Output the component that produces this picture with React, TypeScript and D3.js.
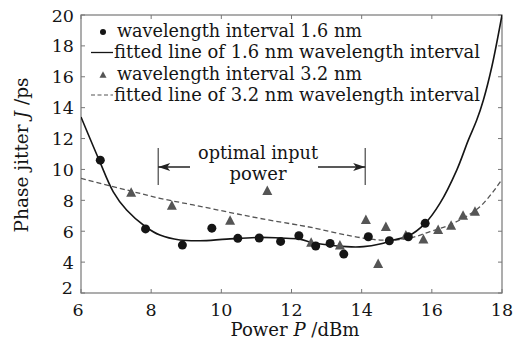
import React from 'react';
import * as d3 from 'd3';

// measured points, 1.6 nm spacing (circles)
const circleX = [6.55, 7.84, 8.89, 9.73, 10.47, 11.08, 11.69, 12.21, 12.69, 13.1, 13.49, 14.19, 14.79, 15.33, 15.81];
const circleY = [10.6, 6.15, 5.1, 6.2, 5.54, 5.56, 5.34, 5.71, 5.04, 5.21, 4.52, 5.64, 5.38, 5.64, 6.51];

// measured points, 3.2 nm spacing (triangles)
const triX = [7.43, 8.59, 10.25, 11.31, 12.56, 13.38, 14.12, 14.47, 14.69, 15.26, 15.76, 16.18, 16.55, 16.89, 17.23];
const triY = [8.49, 7.65, 6.68, 8.6, 5.25, 5.08, 6.72, 3.87, 6.27, 5.73, 5.47, 6.08, 6.35, 7.0, 7.26];

// fitted curves
const fit16X = [6, 6.5, 6.92, 7.3, 7.84, 8.25, 8.82, 9.39, 10.15, 11.1, 11.67, 12.24, 12.62, 13.57, 14.05, 14.52, 14.9, 15.33, 15.81, 16.23, 16.71, 17.04, 17.28, 17.47, 17.71, 18];
const fit16Y = [13.4, 10.7, 8.55, 7.37, 6.29, 5.75, 5.43, 5.38, 5.49, 5.6, 5.56, 5.49, 5.25, 5.0, 5.0, 5.17, 5.43, 5.69, 6.51, 7.8, 9.96, 11.9, 13.2, 14.5, 16.65, 20];
const fit32X = [6, 7.3, 8.25, 9.2, 10.15, 11.1, 12.24, 12.62, 13.57, 14.52, 15.33, 15.95, 16.61, 17.37, 18];
const fit32Y = [9.42, 8.67, 8.13, 7.7, 7.26, 6.83, 6.38, 6.22, 5.75, 5.43, 5.54, 5.97, 6.51, 7.58, 9.35];

const xTicks = [6, 8, 10, 12, 14, 16, 18];
const yTicks = [2, 4, 6, 8, 10, 12, 14, 16, 18, 20];

const legendLabels = [
  'wavelength interval 1.6 nm',
  'fitted line of 1.6 nm wavelength interval',
  'wavelength interval 3.2 nm',
  'fitted line of 3.2 nm wavelength interval',
];
const legendWidths = [245, 366, 245, 366];

const W = 531;
const H = 342;
const left = 81, right = 502, top = 15, bottom = 293;
const font = '"DejaVu Serif", "Liberation Serif", serif';
const frame = '#777';
const ink = '#151515';

const App: React.FC = () => {
  const x = d3.scaleLinear().domain([6, 18]).range([left, right]);
  const y = d3.scaleLinear().domain([2, 20]).range([bottom, top]);

  const line = d3
    .line<[number, number]>()
    .x((d) => x(d[0]))
    .y((d) => y(d[1]))
    .curve(d3.curveCatmullRom);

  const fit16 = fit16X.map((v, i) => [v, fit16Y[i]] as [number, number]);
  const fit32 = fit32X.map((v, i) => [v, fit32Y[i]] as [number, number]);

  const tri = (cx: number, cy: number, s: number) =>
    `M${cx},${cy - s * 0.55}L${cx + s / 2},${cy + s * 0.4}L${cx - s / 2},${cy + s * 0.4}Z`;

  const legendY = [31, 52.5, 74, 95];

  return (
    <svg width={W} height={H} style={{ display: 'block', position: 'absolute', left: 0, top: 0, fontFamily: font }}>
      <rect width={W} height={H} fill="#fff" />
      <defs>
        <clipPath id="plot">
          <rect x={left} y={top} width={right - left} height={bottom - top} />
        </clipPath>
      </defs>

      {/* frame + inward ticks */}
      <rect x={left} y={top} width={right - left} height={bottom - top} fill="none" stroke={frame} strokeWidth={1.2} />
      {xTicks.map((t) => (
        <g key={'xt' + t}>
          <line x1={x(t)} x2={x(t)} y1={bottom} y2={bottom - 4} stroke={frame} />
          <line x1={x(t)} x2={x(t)} y1={top} y2={top + 4} stroke={frame} />
          <text x={x(t) - (t === 6 ? 3 : 0)} y={316} textAnchor="middle" fontSize={17.5} fill={ink}>
            {t}
          </text>
        </g>
      ))}
      {yTicks.map((t) => (
        <g key={'yt' + t}>
          <line x1={left} x2={left + 4} y1={y(t)} y2={y(t)} stroke={frame} />
          <line x1={right} x2={right - 4} y1={y(t)} y2={y(t)} stroke={frame} />
          <text x={t === 2 ? 73 : 74} y={y(t) + (t === 2 ? 1 : 6.5)} textAnchor="end" fontSize={17.5} fill={ink}>
            {t}
          </text>
        </g>
      ))}

      {/* axis titles */}
      <text x={295} y={336} textAnchor="middle" fontSize={18} fill={ink} textLength={129} lengthAdjust="spacingAndGlyphs">
        Power <tspan fontStyle="italic">P</tspan> /dBm
      </text>
      <text
        transform={`translate(28,${(top + bottom) / 2 + 1}) rotate(-90)`}
        textAnchor="middle"
        fontSize={18}
        fill={ink}
        textLength={155}
        lengthAdjust="spacingAndGlyphs"
      >
        Phase jitter <tspan fontStyle="italic">J</tspan> /ps
      </text>

      <g clipPath="url(#plot)">
        <path d={line(fit32) || ''} fill="none" stroke="#555" strokeWidth={1.3} strokeDasharray="5,3" />
        <path d={line(fit16) || ''} fill="none" stroke={ink} strokeWidth={1.6} />
      </g>

      {triX.map((v, i) => (
        <path key={'t' + i} d={tri(x(v), y(triY[i]), 10)} fill="#555" />
      ))}
      {circleX.map((v, i) => (
        <circle key={'c' + i} cx={x(v)} cy={y(circleY[i])} r={4.5} fill={ink} />
      ))}

      {/* optimal input power annotation */}
      <g stroke="#222" strokeWidth={1}>
        <line x1={x(8.2)} x2={x(8.2)} y1={148} y2={185} />
        <line x1={x(14.1)} x2={x(14.1)} y1={148} y2={185} />
        <line x1={x(8.2)} x2={190} y1={167} y2={167} strokeWidth={1.5} />
        <line x1={318} x2={x(14.1)} y1={167} y2={167} strokeWidth={1.5} />
      </g>
      <path d={`M${x(8.2)},167l12,-4l-3,4l3,4Z`} fill="#222" />
      <path d={`M${x(14.1)},167l-12,-4l3,4l-3,4Z`} fill="#222" />
      <text x={258} y={159} textAnchor="middle" fontSize={18} fill={ink} textLength={120} lengthAdjust="spacingAndGlyphs">
        optimal input
      </text>
      <text x={258} y={180} textAnchor="middle" fontSize={18} fill={ink} textLength={57} lengthAdjust="spacingAndGlyphs">
        power
      </text>

      {/* legend */}
      <circle cx={103} cy={legendY[0] + 1} r={3} fill={ink} />
      <line x1={91} x2={113} y1={legendY[1]} y2={legendY[1]} stroke={ink} strokeWidth={1.3} />
      <path d={tri(103, legendY[2] + 1, 7)} fill="#555" />
      <line x1={91} x2={113} y1={legendY[3]} y2={legendY[3]} stroke="#555" strokeWidth={1.2} strokeDasharray="4,2.5" />
      {legendLabels.map((s, i) => (
        <text
          key={'l' + i}
          x={i % 2 === 0 ? 117 : 114}
          y={legendY[i] + 5.5}
          fontSize={18}
          fill={ink}
          textLength={legendWidths[i]}
          lengthAdjust="spacingAndGlyphs"
        >
          {s}
        </text>
      ))}
    </svg>
  );
};

export default App;
